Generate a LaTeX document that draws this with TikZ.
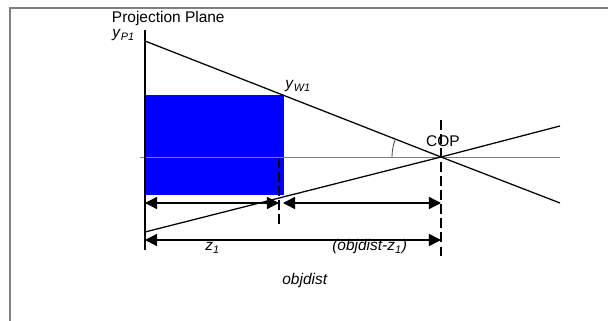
\documentclass[tikz,border=0pt]{standalone}
\usepackage{fontspec}
\setmainfont{Liberation Sans}
\usetikzlibrary{arrows.meta}
\begin{document}
\begin{tikzpicture}[x=0.025cm, y=-0.025cm, font=\fontsize{11}{13}\selectfont,
  raio/.style={line width=0.9pt},
  cota/.style={line width=1pt, {Triangle[length=0.3cm,width=0.3cm]}-{Triangle[length=0.3cm,width=0.3cm]}},
  guia/.style={line width=0.9pt, dash pattern=on 7pt off 3pt}]
  \useasboundingbox (0,0) rectangle (608,321);
  % moldura: só o lado de cima e o da esquerda (recorte de ecrã)
  \draw[black!50, line width=1.5pt] (608,8) -- (10,8) -- (10,321);
  \coordinate (cop) at (441,157);
  \coordinate (plano-topo) at (145,30);
  \coordinate (plano-base) at (145,250);
  \coordinate (yp1) at (145,41);
  \coordinate (fim-sup) at (560,203);
  \coordinate (inf) at (145,232);
  \coordinate (fim-inf) at (560,126);
  \fill[blue] (145,95) rectangle (284,195);
  \draw[black!50, line width=0.7pt] (140,157) -- (560,157);
  \draw[raio] (plano-topo) -- (plano-base);
  \draw[raio] (yp1) -- (cop) -- (fim-sup);
  \draw[raio] (inf) -- (cop) -- (fim-inf);
  \draw[black!70, line width=0.6pt] ([shift={(180:49)}]cop) arc[start angle=180, end angle=201.4, radius=49];
  % guias tracejadas: fim do objecto e centro de projecção
  \coordinate (z-topo) at (279,158);
  \coordinate (z-base) at (279,227);
  \coordinate (cop-base) at (441,258);
  \draw[guia] (z-topo) -- (z-base);
  \draw[guia] (441,120) -- (cop-base);
  % cotas
  \coordinate (c1a) at (145,203);
  \coordinate (c1b) at (279,203);
  \coordinate (c2a) at (283,203);
  \coordinate (c2b) at (441,203);
  \coordinate (c3a) at (145,240);
  \coordinate (c3b) at (441,240);
  \draw[cota] (c1a) -- (c1b);
  \draw[cota] (c2a) -- (c2b);
  \draw[cota] (c3a) -- (c3b);
  \node[anchor=base west] (titulo) at (107,23) {Projection Plane};
  \node[anchor=base west, inner sep=0pt] (lbl-yp1) at (112,38) {\textit{y}\textsubscript{\textit{P1}}};
  \node[anchor=base west, inner sep=0pt] (lbl-yw1) at (285,89) {\textit{y}\textsubscript{\textit{W1}}};
  \node[anchor=base, inner sep=0pt] (lbl-cop) at (443,147) {COP};
  \node[anchor=base west, inner sep=0pt] (lbl-z1) at (205,251) {\textit{z}\textsubscript{\textit{1}}};
  \node[anchor=base west, inner sep=0pt] (lbl-resto) at (332,251) {\textit{(objdist-z}\textsubscript{\textit{1}}\textit{)}};
  \node[anchor=base, inner sep=0pt] (lbl-objdist) at (305,285) {\textit{objdist}};
\end{tikzpicture}
\end{document}
